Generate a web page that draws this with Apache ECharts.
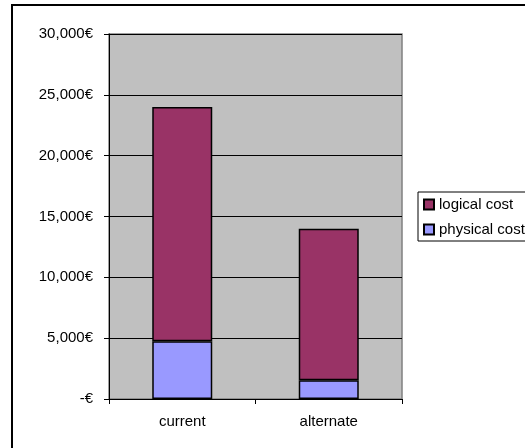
<!DOCTYPE html>
<html>
<head>
<meta charset="utf-8">
<script src="https://cdn.jsdelivr.net/npm/echarts@6/dist/echarts.min.js"></script>
<style>
html,body{margin:0;padding:0;background:#fff;}
#chart{width:525px;height:448px;}
</style>
</head>
<body>
<div id="chart"></div>
<script>
var categories = ['current', 'alternate'];
var physicalCost = [4750, 1550];
var logicalCost = [19250, 12450];
var seriesNames = ['logical cost', 'physical cost'];
var yTickLabels = ['-€', '5,000€', '10,000€', '15,000€', '20,000€', '25,000€', '30,000€'];

var FONT = '"Liberation Sans", Arial, sans-serif';
var chart = echarts.init(document.getElementById('chart'), null, {renderer: 'canvas'});
var option = {
  animation: false,
  backgroundColor: '#fff',
  textStyle: {fontFamily: FONT},
  graphic: [{
    type: 'rect',
    shape: {x: 12, y: 5, width: 700, height: 700},
    style: {fill: 'none', stroke: '#000', lineWidth: 2},
    silent: true,
    z: 100
  }],
  grid: {
    left: 109, top: 34, right: 123, bottom: 49,
    show: true,
    backgroundColor: '#C0C0C0',
    borderColor: '#808080',
    borderWidth: 1.5,
    containLabel: false
  },
  legend: {
    orient: 'vertical',
    left: 418, top: 192,
    data: seriesNames,
    itemWidth: 10, itemHeight: 10, itemGap: 10,
    icon: 'rect',
    padding: [5, 40, 4, 5],
    borderColor: '#000', borderWidth: 1,
    backgroundColor: '#fff',
    textStyle: {fontFamily: FONT, fontSize: 15, color: '#000', lineHeight: 15}
  },
  xAxis: {
    type: 'category',
    data: categories,
    axisLine: {lineStyle: {color: '#000', width: 1}},
    axisTick: {show: true, length: 5, lineStyle: {color: '#000'}},
    axisLabel: {fontFamily: FONT, fontSize: 15, color: '#000', margin: 15}
  },
  yAxis: {
    type: 'value',
    min: 0, max: 30000, interval: 5000,
    axisLine: {show: true, lineStyle: {color: '#000', width: 1}},
    axisTick: {show: true, length: 5, lineStyle: {color: '#000'}},
    axisLabel: {
      fontFamily: FONT, fontSize: 15, color: '#000', margin: 16,
      formatter: function (v) { return yTickLabels[Math.round(v / 5000)]; }
    },
    splitLine: {show: true, lineStyle: {color: '#000', width: 1}}
  },
  series: [
    {
      name: 'physical cost', type: 'bar', stack: 'cost', barWidth: 60,
      data: physicalCost,
      itemStyle: {color: '#9999FF', borderColor: '#000', borderWidth: 1.5}
    },
    {
      name: 'logical cost', type: 'bar', stack: 'cost', barWidth: 60,
      data: logicalCost,
      itemStyle: {color: '#993366', borderColor: '#000', borderWidth: 1.5}
    }
  ]
};
chart.setOption(option);
</script>
</body>
</html>
